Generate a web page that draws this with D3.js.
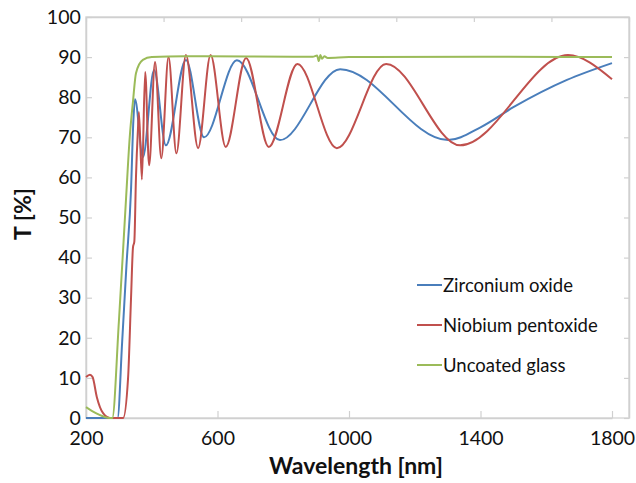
<!DOCTYPE html>
<html>
<head>
<meta charset="utf-8">
<script src="https://cdn.jsdelivr.net/npm/d3@7"></script>
<style>
  body { margin: 0; background: #fff; }
  text { font-family: Lato, "Open Sans", sans-serif; fill: #111; }
</style>
</head>
<body>
<svg id="graph" width="636" height="483"></svg>
<script>
// datos
const xTicks = [200, 600, 1000, 1400, 1800];
const yTicks = [0, 10, 20, 30, 40, 50, 60, 70, 80, 90, 100];
const seriesNames = ["Zirconium oxide", "Niobium pentoxide", "Uncoated glass"];

const zrWl = [200, 296, 310, 323, 337, 344, 349, 373, 407, 443, 504, 559, 659, 790, 973, 1301, 1400, 1500, 1663, 1800];
const zrT = [0, 0, 19, 38, 57, 74, 79.5, 65, 86.8, 68, 89.3, 70, 89.2, 69.3, 87, 69.3, 72.5, 77.5, 84.3, 88.5];

const nbWl = [200, 212, 220, 233, 252, 273, 313, 328, 337, 343, 347, 352, 358, 361, 370, 380, 392, 410, 429, 451, 475, 504, 541, 579, 625, 687, 756, 843, 963, 1113, 1338, 1666, 1800];
const nbT = [10.2, 10.8, 10.2, 5.2, 1.2, 0, 0, 10, 30, 42.6, 44, 60, 72, 76.3, 59.5, 86.3, 63, 88.8, 64.8, 90, 66, 90.5, 67.3, 90.5, 67.6, 89.8, 67.6, 88.3, 67.3, 88.3, 68, 90.5, 84.5];

const glWl = [200, 230, 255, 272, 280, 300, 322, 333, 343, 352, 373, 400, 500, 890, 903, 908, 913, 918, 925, 935, 1000, 1400, 1800];
const glT = [2.7, 1.2, 0.3, 0, 0, 24, 55, 70, 79, 86, 89.3, 90, 90.2, 90.1, 90.4, 89.0, 90.5, 89.6, 90.2, 89.8, 90, 90.1, 90];

const colores = ["#4a7ebb", "#c0504d", "#9bbb59"];

function creaGrafica() {
    let svg = d3.select("#graph");
    const left = 86, top = 17, bottom = 418, right = 629;

    var x = d3.scaleLinear().domain([200, 1800]).range([left, 612]);
    var y = d3.scaleLinear().domain([0, 100]).range([bottom, top]);
    // eje secundario de arriba (solo marcas)
    var xTop = d3.scaleLinear().domain([0, 7]).range([left, right]);

    // marco del area
    svg.append("rect")
        .attr("x", left).attr("y", top)
        .attr("width", right - left).attr("height", bottom - top)
        .attr("fill", "none")
        .attr("stroke", "#d9d9d9")
        .attr("stroke-width", 1.5);

    const gridColor = "#d0d0d0";

    // eje X
    let gx = svg.append("g")
        .attr("transform", "translate(0," + bottom + ")")
        .call(d3.axisBottom(x).tickValues(xTicks).tickFormat(d3.format("d"))
            .tickSizeInner(-7).tickSizeOuter(0).tickPadding(13));
    // eje Y
    let gy = svg.append("g")
        .attr("transform", "translate(" + left + ",0)")
        .call(d3.axisLeft(y).tickValues(yTicks).tickSizeInner(-6).tickSizeOuter(0).tickPadding(14));
    // marcas derecha y arriba
    let gr = svg.append("g")
        .attr("transform", "translate(" + right + ",0)")
        .call(d3.axisRight(y).tickValues(yTicks).tickSizeInner(-5).tickSizeOuter(0).tickFormat(""));
    let gt = svg.append("g")
        .attr("transform", "translate(0," + top + ")")
        .call(d3.axisTop(xTop).ticks(7).tickSizeInner(-5).tickSizeOuter(0).tickFormat(""));

    [gx, gy, gr, gt].forEach(g => {
        g.select(".domain").attr("stroke", gridColor).attr("stroke-width", 1.5);
        g.selectAll(".tick line").attr("stroke", gridColor).attr("stroke-width", 1.2);
        g.selectAll(".tick text").style("font-size", "19.5px").attr("fill", "#111");
    });
    gy.selectAll(".tick text").attr("dx", "0.45em");

    // etiquetas de los ejes
    svg.append("text")
        .attr("x", 356).attr("y", 474)
        .style("text-anchor", "middle")
        .style("font-weight", "bold")
        .style("font-size", "23px")
        .text("Wavelength [nm]");

    svg.append("text")
        .attr("transform", "translate(31,214) rotate(-90)")
        .style("text-anchor", "middle")
        .style("font-weight", "bold")
        .style("font-size", "23px")
        .text("T [%]");

    // series
    const series = [
        { name: seriesNames[0], wl: zrWl, t: zrT },
        { name: seriesNames[1], wl: nbWl, t: nbT },
        { name: seriesNames[2], wl: glWl, t: glT }
    ];

    const line = d3.line()
        .x(d => x(d[0]))
        .y(d => y(d[1]))
        .curve(d3.curveMonotoneX);

    svg.append("g")
        .selectAll("path")
        .data(series)
        .enter()
        .append("path")
        .attr("d", s => line(s.wl.map((w, i) => [w, s.t[i]])))
        .attr("fill", "none")
        .attr("stroke", (s, i) => colores[i])
        .attr("stroke-width", 2);

    // leyenda
    const groups = svg.append("g")
        .selectAll("g")
        .data(seriesNames)
        .enter().append("g")
        .attr("transform", (d, i) => `translate(0,${285 + i * 40})`);

    groups.append("line")
        .attr("x1", 417).attr("x2", 442)
        .attr("stroke", (d, i) => colores[i])
        .attr("stroke-width", 2);

    groups.append("text")
        .attr("x", 443)
        .attr("dy", "0.38em")
        .style("font-size", "18.5px")
        .text(d => d);
}

creaGrafica();
</script>
</body>
</html>
